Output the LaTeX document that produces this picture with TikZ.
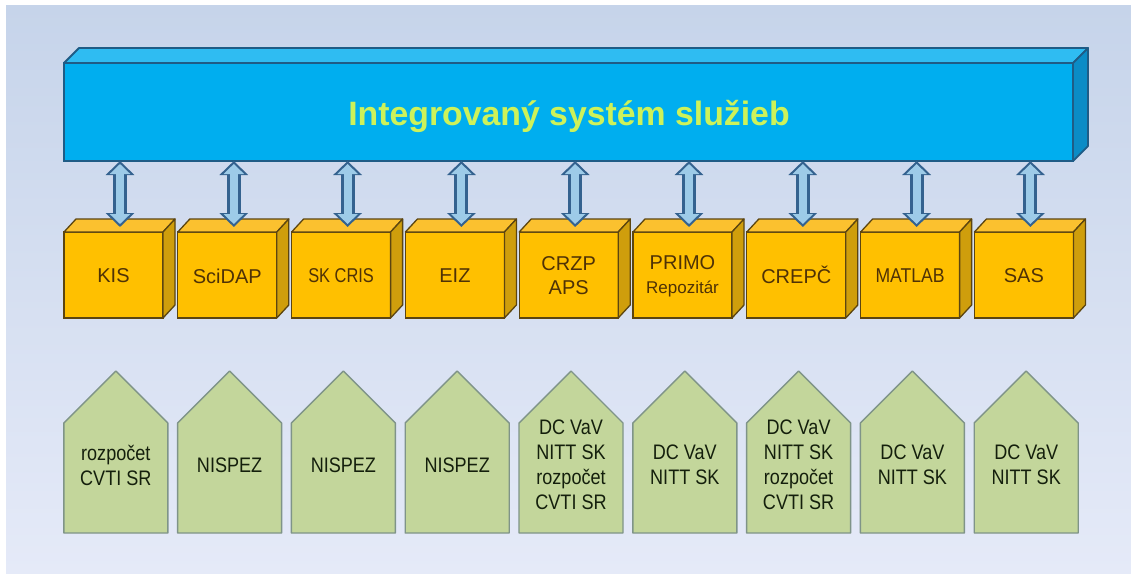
\documentclass[tikz,border=0pt]{standalone}
\usepackage{fontspec}
\setmainfont{Liberation Sans}
\usetikzlibrary{calc,arrows.meta}
\definecolor{bgtop}{HTML}{C6D4EA}
\definecolor{bgmid}{HTML}{DCE4F3}
\definecolor{bgbot}{HTML}{E5EAF8}
\definecolor{bigfront}{HTML}{00AEEF}
\definecolor{bigtop}{HTML}{2FBCF2}
\definecolor{bigside}{HTML}{0B8CC6}
\definecolor{bigline}{HTML}{1F5C86}
\definecolor{titlecol}{HTML}{CDF25A}
\definecolor{orfront}{HTML}{FFC000}
\definecolor{ortop}{HTML}{FBC12F}
\definecolor{orside}{HTML}{CF9E0C}
\definecolor{orline}{HTML}{5C4510}
\definecolor{ortext}{HTML}{4F3206}
\definecolor{grfill}{HTML}{C3D69B}
\definecolor{grline}{HTML}{7F9488}
\definecolor{grtext}{HTML}{141F0C}
\definecolor{arrdark}{HTML}{34628F}
\definecolor{arrlight}{HTML}{9DCBE8}
\tikzset{
  x=1pt,y=-1pt,
  bigbox/.style={draw=bigline,line width=1.8pt,fill=bigfront,minimum width=1009pt,minimum height=98pt,inner sep=0pt,outer sep=0pt},
  bigface/.style={draw=bigline,line width=1.8pt,line join=round},
  titletext/.style={text=titlecol,font=\fontsize{33.8}{38}\selectfont\bfseries},
  orbox/.style={draw=orline,line width=1.3pt,fill=orfront,minimum width=99pt,minimum height=86pt,inner sep=0pt,outer sep=0pt},
  orface/.style={draw=orline,line width=1.3pt,line join=round},
  ortextstyle/.style={text=ortext,align=center,inner sep=0pt},
  house/.style={draw=grline,line width=1.4pt,fill=grfill,line join=round},
  housetext/.style={inner sep=0pt,text=grtext,align=center,font=\addfontfeature{FakeStretch=0.86}\fontsize{21}{25}\selectfont},
  linkouter/.style={draw=arrdark,line width=14pt,{Triangle[width=28pt,length=14pt]}-{Triangle[width=28pt,length=14pt]}},
  linkinner/.style={draw=arrlight,line width=8pt,shorten <=3pt,shorten >=3pt,{Triangle[width=20pt,length=10pt]}-{Triangle[width=20pt,length=10pt]}},
}
\begin{document}
\begin{tikzpicture}
\useasboundingbox (0,0) rectangle (1131,574);
\fill[white] (0,0) rectangle (1131,574);
\shade[top color=bgtop,middle color=bgmid,bottom color=bgbot] (6,5) rectangle (1131,573);
% big box
\node[bigbox] (big) at (568.5,112) {};
\draw[bigface,fill=bigtop] (big.north west) -- ++(15,-15) -- ($(big.north east)+(15,-15)$) -- (big.north east) -- cycle;
\draw[bigface,fill=bigside] (big.north east) -- ++(15,-15) -- ($(big.south east)+(15,-15)$) -- (big.south east) -- cycle;
\node[titletext] (title) at (569,116) {Integrovaný systém služieb};
% orange boxes
\foreach \i/\txt/\st in {1/KIS/1,2/SciDAP/1,3/SK CRIS/.82,4/EIZ/1,5/{CRZP\\APS}/1,6/{PRIMO\\{\fontsize{17}{24}\selectfont Repozitár}}/1,7/{\raisebox{0pt}[0.72em]{CREPČ}}/1,8/MATLAB/.88,9/SAS/1}{
  \pgfmathsetmacro{\xc}{113.5+113.8*(\i-1)}
  \node[orbox] (o\i) at (\xc,275) {};
  \draw[orface,fill=ortop] (o\i.north west) -- ++(12,-13) -- ($(o\i.north east)+(12,-13)$) -- (o\i.north east) -- cycle;
  \draw[orface,fill=orside] (o\i.north east) -- ++(12,-13) -- ($(o\i.south east)+(12,-13)$) -- (o\i.south east) -- cycle;
  \node[ortextstyle,font=\addfontfeature{FakeStretch=\st}\fontsize{20}{24}\selectfont] (t\i) at (\xc,276) {\txt};
  \coordinate (top\i) at ($(o\i.north)+(6.5,-5)$);
}
% houses
\foreach \i/\txt in {1/{rozpočet\\CVTI SR},2/NISPEZ,3/NISPEZ,4/NISPEZ,5/{DC VaV\\NITT SK\\rozpočet\\CVTI SR},6/{DC VaV\\NITT SK},7/{DC VaV\\NITT SK\\rozpočet\\CVTI SR},8/{DC VaV\\NITT SK},9/{DC VaV\\NITT SK}}{
  \pgfmathsetmacro{\xc}{115.8+113.8*(\i-1)}
  \draw[house] (\xc,371) -- ++(52,52) -- ++(0,110) -- ++(-104,0) -- ++(0,-110) -- cycle;
  \node[housetext] (h\i) at (\xc,465) {\txt};
}
% connectors
\foreach \i in {1,...,9}{
  \draw[linkouter] (top\i |- big.south) -- (top\i);
  \draw[linkinner] (top\i |- big.south) -- (top\i);
}
\end{tikzpicture}
\end{document}
